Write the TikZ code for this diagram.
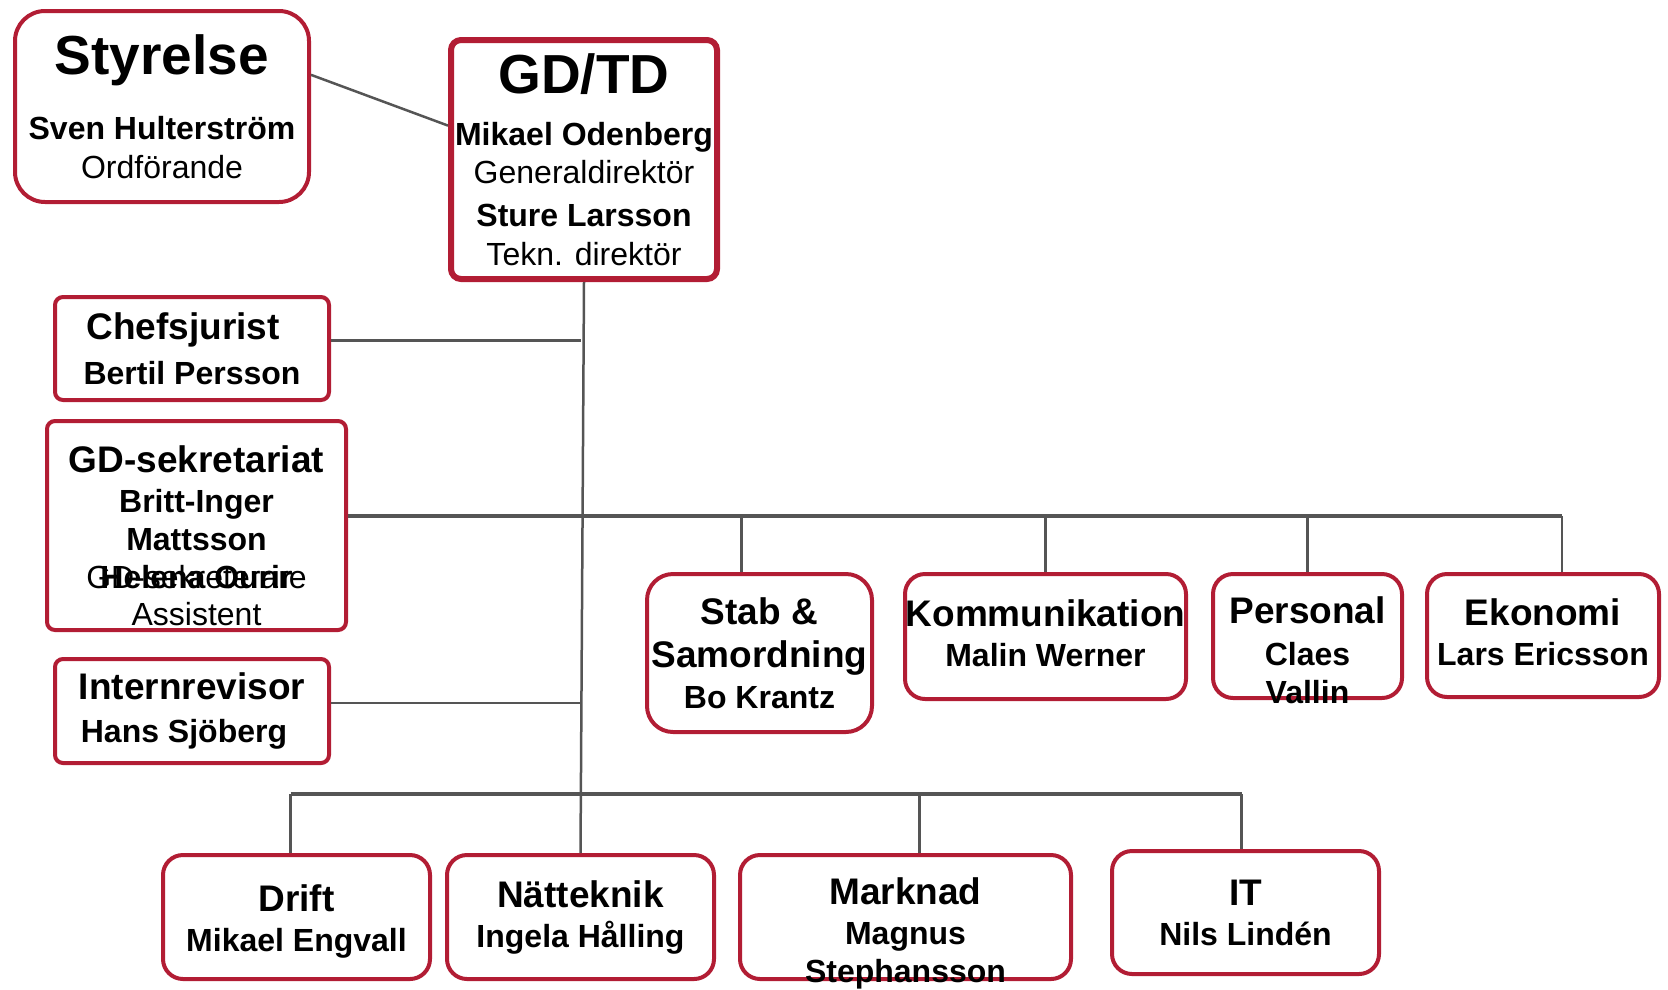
\documentclass[tikz,border=0pt]{standalone}
\usepackage{fontspec}
\setmainfont{Liberation Sans}
\definecolor{orgred}{RGB}{178,29,52}
\definecolor{linegray}{RGB}{85,85,85}
\newcommand\hdbig[1]{{\fontsize{55}{60}\selectfont\bfseries #1}}
\newcommand\hd[1]{{\fontsize{37}{43}\selectfont\bfseries #1}}
\tikzset{
  unitbox/.style={draw=orgred, line width=4pt, fill=white, rounded corners=#1,
    align=center, inner sep=0pt},
  unitbox/.default=20pt,
  unittext/.style={align=center, inner sep=0pt},
  link/.style={draw=linegray, line width=2.5pt},
  bar/.style={draw=linegray, line width=4pt},
}
\begin{document}
\begin{tikzpicture}[x=1pt,y=-1pt,font=\fontsize{32}{38}\selectfont]
	\useasboundingbox (0,0) rectangle (1668,989);
	% top level
		\node[unitbox=30pt, minimum width=294pt, minimum height=191pt] (styr) at (162,106.5)
			{\hdbig{Styrelse}\\[27pt]\textbf{Sven Hulterström}\\[1pt]Ordförande};
		\node[unitbox=10pt, line width=6pt, minimum width=266pt, minimum height=239pt] (gdtd) at (584,159.5)
			{\hdbig{GD/TD}\\[14pt]\textbf{Mikael Odenberg}\\Generaldirektör\\[5pt]\textbf{Sture Larsson}\\[1pt]Tekn. direktör};
	% staff units
		\node[unitbox=8pt, minimum width=274pt, minimum height=103pt] (chef) at (192,348.5)
			{\hd{Chefsjurist}\hspace*{18pt}\\[7pt]\textbf{Bertil Persson}};
		\node[unitbox=8pt, minimum width=299pt, minimum height=209pt] (sekr) at (196.5,525.5) {};
		\node[unittext] (sekr-t) at ([yshift=-10pt]sekr.center)
			{\hd{GD-sekretariat}\\[2pt]\textbf{Britt-Inger}\\\textbf{Mattsson}\\
			 \makebox[0pt]{GD-sekreterare}\makebox[0pt]{\bfseries Helena Ourir}\\[-1pt]Assistent};
		\node[unitbox=8pt, minimum width=274pt, minimum height=104pt] (intr) at (192,711)
			{\hd{Internrevisor}\\[5pt]\textbf{Hans Sjöberg}\hspace*{16pt}};
	% middle row
		\node[unitbox=26pt, minimum width=225pt, minimum height=158pt] (stab) at (759.5,653)
			{\hd{Stab \&}\\[5pt]\hd{Samordning}\\[3pt]\textbf{Bo Krantz}};
		\node[unitbox, minimum width=281pt, minimum height=125pt] (komm) at (1045.5,636.5)
			{\hd{Kommunikation}\\[2pt]\textbf{Malin Werner}\rule[-6pt]{0pt}{6pt}};
		\node[unitbox, minimum width=189pt, minimum height=124pt] (pers) at (1307.5,636) {};
		\node[unittext, anchor=north] (pers-t) at ([yshift=-24pt]pers.north)
			{\hd{Personal}\\[4pt]\textbf{Claes}\\\textbf{Vallin}};
		\node[unitbox, minimum width=232pt, minimum height=123pt] (ekon) at (1543,635.5)
			{\hd{Ekonomi}\\[2pt]\textbf{Lars Ericsson}\rule[-6pt]{0pt}{6pt}};
	% bottom row
		\node[unitbox, minimum width=267pt, minimum height=124pt] (drift) at (296.5,917)
			{\rule{0pt}{35pt}\hd{Drift}\\[2pt]\textbf{Mikael Engvall}};
		\node[unitbox, minimum width=267pt, minimum height=124pt] (natt) at (580.5,917)
			{\hd{Nätteknik}\\[2pt]\textbf{Ingela Hålling}};
		\node[unitbox, minimum width=331pt, minimum height=124pt] (mark) at (905.5,917) {};
		\node[unittext, anchor=north] (mark-t) at ([yshift=-24pt]mark.north)
			{\hd{Marknad}\\[2pt]\textbf{Magnus}\\\textbf{Stephansson}};
		\node[unitbox, minimum width=267pt, minimum height=123pt] (it) at (1245.5,912.5)
			{\hd{IT}\\[2pt]\textbf{Nils Lindén}};
	% connection points
		\path ([yshift=8pt]chef.east) coordinate (cj)
			([yshift=8pt]intr.east) coordinate (ir)
			([yshift=9.5pt]sekr.east) coordinate (bus-t)
			([xshift=-18pt]stab.north) coordinate (s-t)
			([xshift=19pt]ekon.north) coordinate (e-t)
			([xshift=-6pt]drift.north) coordinate (d-t)
			([xshift=14pt]mark.north) coordinate (m-t)
			([xshift=-4pt]it.north) coordinate (i-t)
			([yshift=59pt]d-t) coordinate (bus-l);
	% lines
		\draw[link] (styr.12) -- (gdtd.166);
		\draw[link] (gdtd.south) -- (natt.north);
		\draw[link] (cj) -- (cj -| natt.north);
		\draw[link] (ir) -- (ir -| natt.north);
		\draw[bar] (bus-t) -- (bus-t -| e-t);
		\foreach \t in {s-t,komm.north,pers.north,e-t}
			\draw[link] (\t) -- (\t |- bus-t);
		\draw[bar] (bus-l) -- (bus-l -| i-t);
		\foreach \t in {d-t,m-t,i-t}
			\draw[link] (\t) -- (\t |- bus-l);
\end{tikzpicture}
\end{document}
